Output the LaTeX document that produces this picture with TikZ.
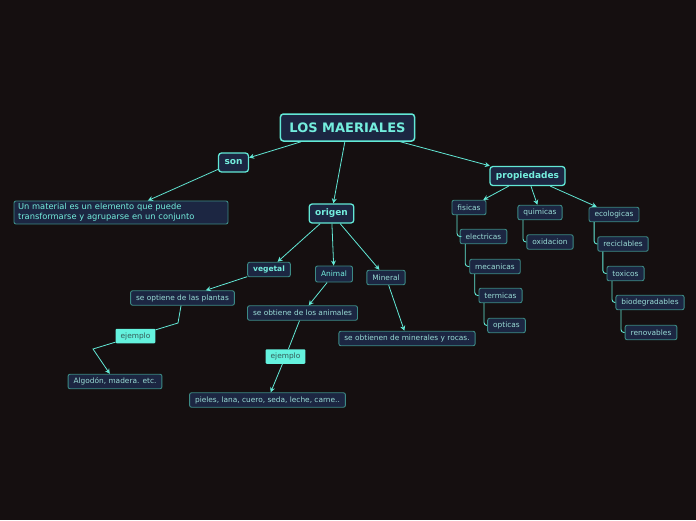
\documentclass[tikz,border=0pt]{standalone}
\usepackage{fontspec}
\setmainfont{DejaVu Sans}
\usetikzlibrary{arrows.meta,positioning}
\definecolor{mapBg}{HTML}{150F10}
\definecolor{mapFill}{HTML}{1C2642}
\definecolor{mapEdge}{HTML}{62E8D6}
\definecolor{mapLine}{HTML}{3C8A85}
\definecolor{mapText}{HTML}{74EEDE}
\definecolor{mapSoft}{HTML}{9ADCD6}
\definecolor{mapNote}{HTML}{64F2DE}
\definecolor{mapDark}{HTML}{355C58}

\begin{document}
\begin{tikzpicture}[x=1pt,y=-1pt,>={Stealth[length=5pt,width=5pt]},
  topic/.style={draw=mapEdge,fill=mapFill,rounded corners=3pt,line width=1.3pt,
    text=mapText,font=\fontsize{9}{11}\selectfont\bfseries,inner xsep=6pt,minimum height=19pt},
  leaf/.style={draw=mapLine,fill=mapFill,rounded corners=2pt,line width=0.9pt,
    text=mapSoft,font=\fontsize{7.4}{8.8}\selectfont,inner xsep=5.5pt,minimum height=14.5pt},
  note/.style={fill=mapNote,rounded corners=1pt,text=mapDark,
    font=\fontsize{7.4}{8.8}\selectfont,inner xsep=5pt,minimum height=14.5pt},
  link/.style={mapEdge,line width=0.8pt},
  branch/.style={mapEdge,line width=0.9pt,rounded corners=3pt}]
  \fill[mapBg] (0,0) rectangle (696,520);
  \useasboundingbox (0,0) rectangle (696,520);

  % main topics
  \node[topic,font=\fontsize{13}{15}\selectfont\bfseries,inner xsep=9pt,minimum height=27pt,line width=1.5pt]
    (root) at (347.5,127.5) {LOS MAERIALES};
  \node[topic] (son) at (233.5,162.5) {son};
  \node[topic] (origen) at (331.5,213.5) {origen};
  \node[topic] (propiedades) at (527.5,176) {propiedades};

  \node[leaf,text=mapText,font=\fontsize{8.3}{10}\selectfont,text width=206pt,align=left,inner xsep=4pt,inner ysep=2.5pt]
    (def) at (121,212.5) {Un material es un elemento que puede\\transformarse y agruparse en un conjunto};

  % origen
  \node[leaf,text=mapText,font=\fontsize{7.5}{9}\selectfont\bfseries] (vegetal) at (269,269.5) {vegetal};
  \node[leaf,text=mapText,font=\fontsize{7.5}{9}\selectfont,minimum height=16pt] (animal) at (334,274) {Animal};
  \foreach \name/\x/\y/\txt in {mineral/386/277.5/Mineral,
      plantas/182.5/298/se optiene de las plantas,
      algodon/115/381.5/{Algodón, madera. etc.},
      animales/302.5/313/se obtiene de los animales,
      pieles/267.5/400/{pieles, lana, cuero, seda, leche, carne..},
      minerales/407/338.5/se obtienen de minerales y rocas.}
    \node[leaf] (\name) at (\x,\y) {\txt};
  \node[note] (ejemploV) at (135.5,336) {ejemplo};
  \node[note] (ejemploA) at (285.5,356.5) {ejemplo};

  % propiedades
  \foreach \name/\x/\y in {fisicas/469/207.5, electricas/483.5/236.5, mecanicas/495/266.5,
      termicas/500.5/295.5, opticas/506.5/325.5, quimicas/540/212.5, oxidacion/550/242,
      ecologicas/614/214.5, reciclables/623/244, toxicos/625.5/273.5,
      biodegradables/650/302.5, renovables/651/332.5}
    \node[leaf] (\name) at (\x,\y) {\name};

  % links
  \foreach \a/\b in {root/son, root/origen, root/propiedades, son/def,
      origen/vegetal, origen/animal, origen/mineral, vegetal/plantas,
      animal/animales, mineral/minerales,
      propiedades/fisicas, propiedades/quimicas, propiedades/ecologicas}
    \draw[link,->] (\a) -- (\b);

  \coordinate (bendV) at (178,323);
  \coordinate (bendA) at (93,349);
  \draw[link] ([xshift=-1.5pt]plantas.south) -- (bendV) -- (ejemploV);
  \draw[link,->] (ejemploV) -- (bendA) -- (algodon);
  \draw[link] (animales) -- (ejemploA);
  \draw[link,->] (ejemploA) -- (pieles);

  \foreach \a/\b in {fisicas/electricas, electricas/mecanicas, mecanicas/termicas,
      termicas/opticas, quimicas/oxidacion, ecologicas/reciclables,
      reciclables/toxicos, toxicos/biodegradables, biodegradables/renovables}
    \draw[branch] ([xshift=5.5pt]\a.south west) |- (\b.west);
\end{tikzpicture}
\end{document}
